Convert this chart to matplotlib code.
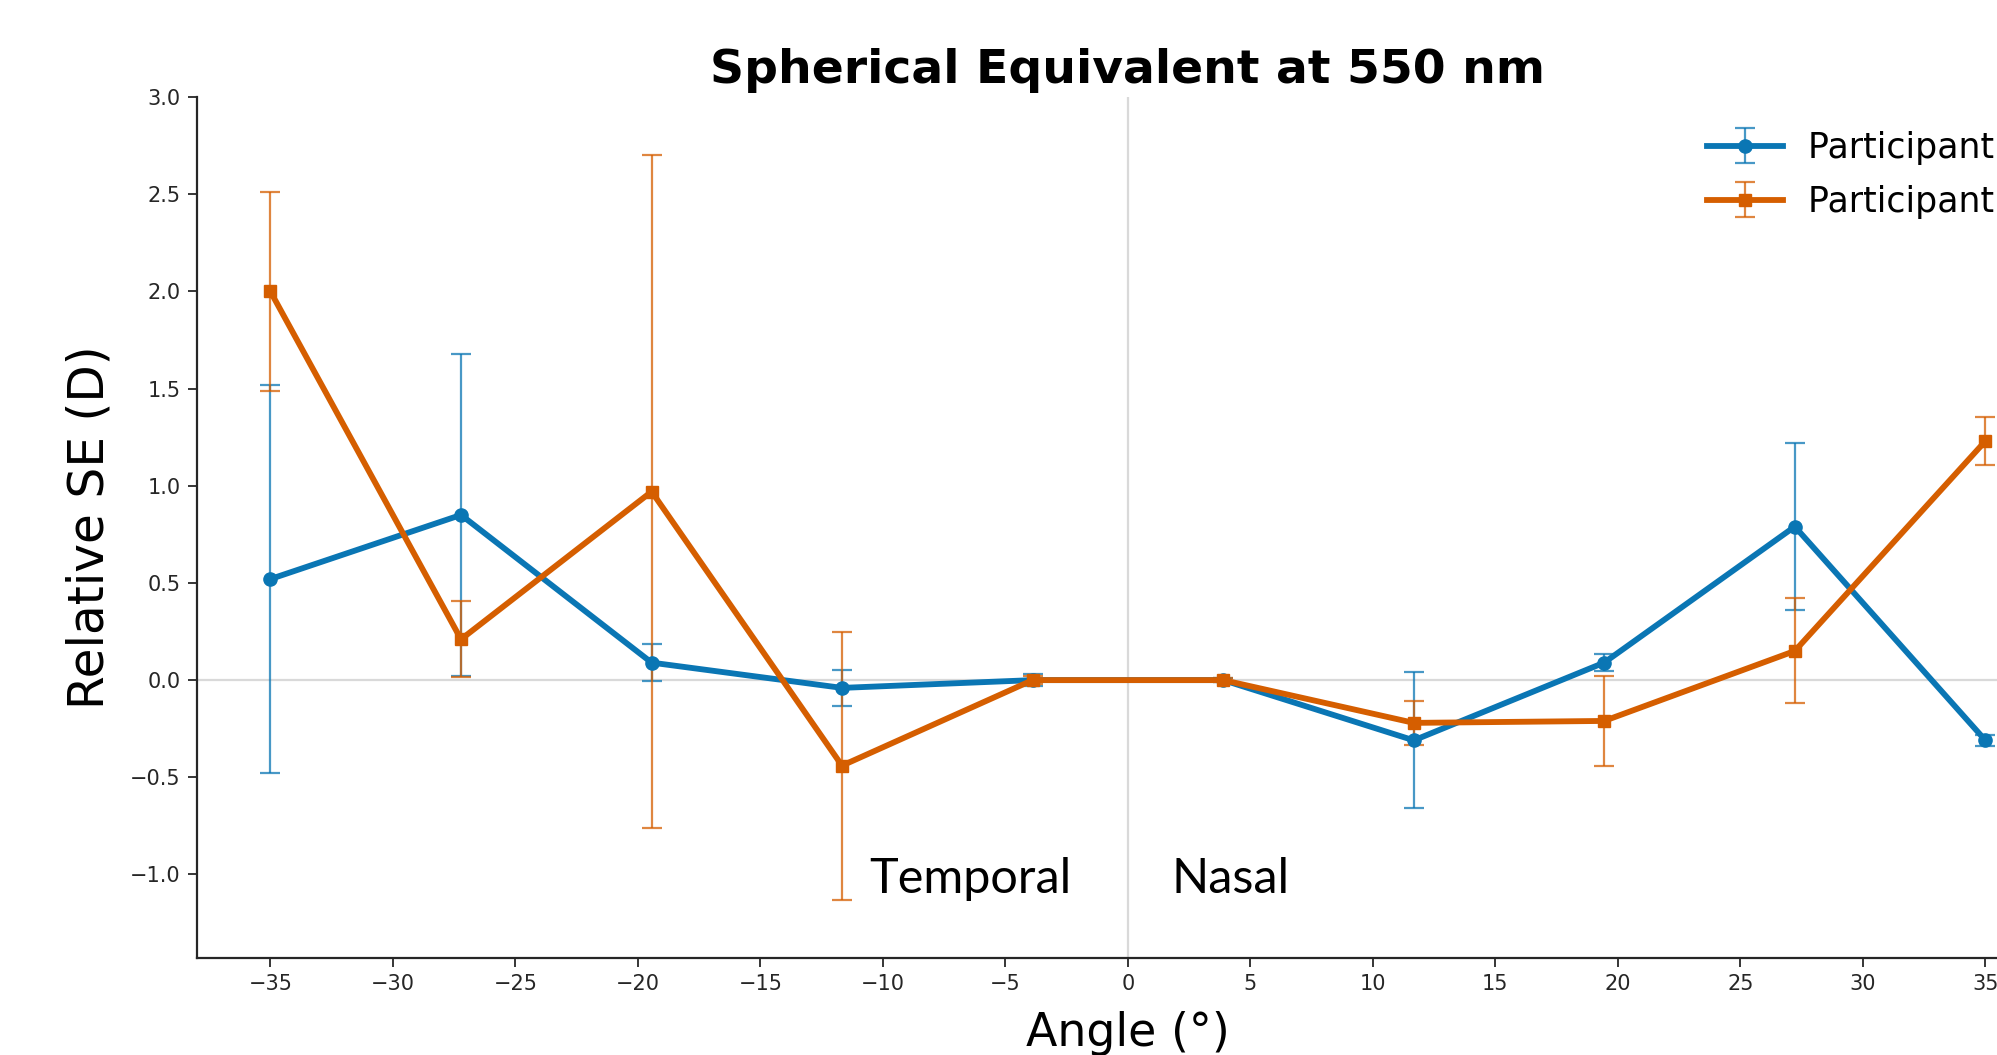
import matplotlib
matplotlib.use('Agg')
import matplotlib.pyplot as plt

# ─────────────────────────────────────────
# DATA
# ─────────────────────────────────────────
angles = [-35.0, -27.22, -19.44, -11.67, -3.89, 3.89, 11.67, 19.44, 27.22, 35.0]

p1_se = [0.52, 0.85, 0.09, -0.04, 0.0, 0.0, -0.31, 0.09, 0.79, -0.31]
p1_err = [1.0, 0.83, 0.095, 0.092, 0.03, 0.01, 0.35, 0.045, 0.43, 0.03]

p2_se = [2.0, 0.21, 0.97, -0.44, 0.0, 0.0, -0.22, -0.21, 0.15, 1.23]
p2_err = [0.51, 0.195, 1.73, 0.69, 0.02, 0.01, 0.115, 0.23, 0.27, 0.125]

labels = ['Participant 1', 'Participant 2']
colors = ['#0a76b4', '#D55E00']
markers = ['o', 's']

xticks = list(range(-35, 40, 5))
yticks = [-1.0, -0.5, 0.0, 0.5, 1.0, 1.5, 2.0, 2.5, 3.0]

# ─────────────────────────────────────────
# PLOT
# ─────────────────────────────────────────
fig = plt.figure(figsize=(19.97, 10.55), dpi=100)
ax = fig.add_axes([0.0986, 0.0919, 0.9324, 0.8161])

ax.axhline(0, color='#d9d9d9', lw=1.6, zorder=0)
ax.axvline(0, color='#d9d9d9', lw=1.6, zorder=0)

for vals, errs, lab, col, mk in zip([p1_se, p2_se], [p1_err, p2_err], labels, colors, markers):
    eb = ax.errorbar(angles, vals, yerr=errs, label=lab, color=col,
                     marker=mk, ms=9.5 if mk == 'o' else 8.5, lw=4.2,
                     elinewidth=1.6, capsize=7.5, capthick=1.6)
    for c in eb[1]:
        c.set_alpha(0.75)
    for b in eb[2]:
        b.set_alpha(0.75)

ax.set_xlim(-38, 38)
ax.set_ylim(-1.43, 3.0)
ax.set_xticks(xticks)
ax.set_yticks(yticks)
ax.tick_params(labelsize=15, length=6.5, width=1.3, pad=5, colors='#262626')

for s in ['top', 'right']:
    ax.spines[s].set_visible(False)
for s in ['left', 'bottom']:
    ax.spines[s].set_linewidth(1.6)
    ax.spines[s].set_color('#262626')

ax.set_title('Spherical Equivalent at 550 nm', fontsize=34, fontweight='bold', pad=10)
ax.set_xlabel('Angle (°)', fontsize=33, labelpad=12)
ax.set_ylabel('Relative SE (D)', fontsize=35, labelpad=12)

ax.text(-10.55, -1.095, 'Temporal', family='Lato', fontsize=35, va='baseline', ha='left')
ax.text(1.77, -1.095, 'Nasal', family='Lato', fontsize=35, va='baseline', ha='left')

ax.legend(loc='upper left', bbox_to_anchor=(0.8548, 0.876), bbox_transform=fig.transFigure,
          frameon=False, fontsize=25, borderpad=0, borderaxespad=0,
          handlelength=2.2, handletextpad=0.7, labelspacing=0.58)

fig.savefig('out.png', dpi=100)
